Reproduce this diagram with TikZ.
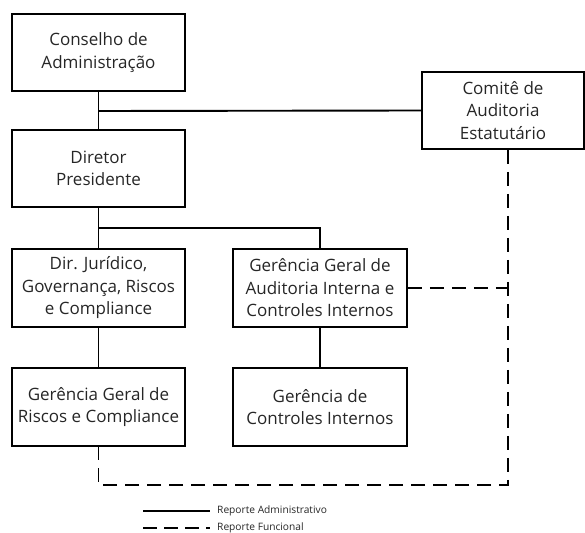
\documentclass[tikz,border=0pt]{standalone}
\usepackage{fontspec}
\setmainfont{Open Sans}
\begin{document}
\begin{tikzpicture}[x=1pt,y=-1pt,
  box/.style={draw=black, line width=1.9pt, minimum width=173pt, minimum height=77pt, align=center, inner sep=2pt, font=\fontsize{17}{22.5}\selectfont, text=black!85},
  conn/.style={line width=1.9pt},
  dconn/.style={line width=1.9pt, dash pattern=on 14pt off 8pt},
  legtext/.style={font=\fontsize{10.2}{11}\selectfont, anchor=west, inner sep=0pt, text=black!85}]
\useasboundingbox (0,0) rectangle (585,532);
\node[box] (cons) at (98.5,52.5) {Conselho de\\Administração};
\node[box] (dir) at (98.5,168.5) {Diretor\\Presidente};
\node[box, minimum width=162pt] (com) at (503,110.5) {Comitê de\\Auditoria\\Estatutário};
\node[box, minimum height=78pt] (jur) at (98.5,288) {Dir. Jurídico,\\Governança, Riscos\\e Compliance};
\node[box, minimum width=174pt, minimum height=78pt] (aud) at (320,288) {Gerência Geral de\\Auditoria Interna e\\Controles Internos};
\node[box, minimum height=78pt] (ris) at (98.5,407) {Gerência Geral de\\Riscos e Compliance};
\node[box, minimum width=174pt, minimum height=78pt] (ctl) at (320,407) {Gerência de\\Controles Internos};
\coordinate (j1) at (98.5,111);
\coordinate (j2) at (98.5,228);
\coordinate (d1) at (508,485);
\draw[conn] (cons.south) -- (dir.north);
\draw[conn] (j1) -- (com.west);
\draw[conn] (dir.south) -- (jur.north);
\draw[conn] (j2) -| (aud.north);
\draw[conn] (jur.south) -- (ris.north);
\draw[conn] (aud.south) -- (ctl.north);
\draw[dconn] (com.south -| d1) -- (d1) -| (ris.south);
\draw[dconn] (aud.east) -- (aud.east -| d1);
% legend
\coordinate (l1a) at (143,511);
\coordinate (l1b) at (210,511);
\coordinate (l2a) at (143,528);
\coordinate (l2b) at (210,528);
\draw[line width=1.3pt] (l1a) -- (l1b);
\draw[line width=1.3pt, dash pattern=on 14pt off 7pt] (l2a) -- (l2b);
\node[legtext] (lt1) at (217,511) {Reporte Administrativo};
\node[legtext] (lt2) at (217,528) {Reporte Funcional};
\end{tikzpicture}
\end{document}
